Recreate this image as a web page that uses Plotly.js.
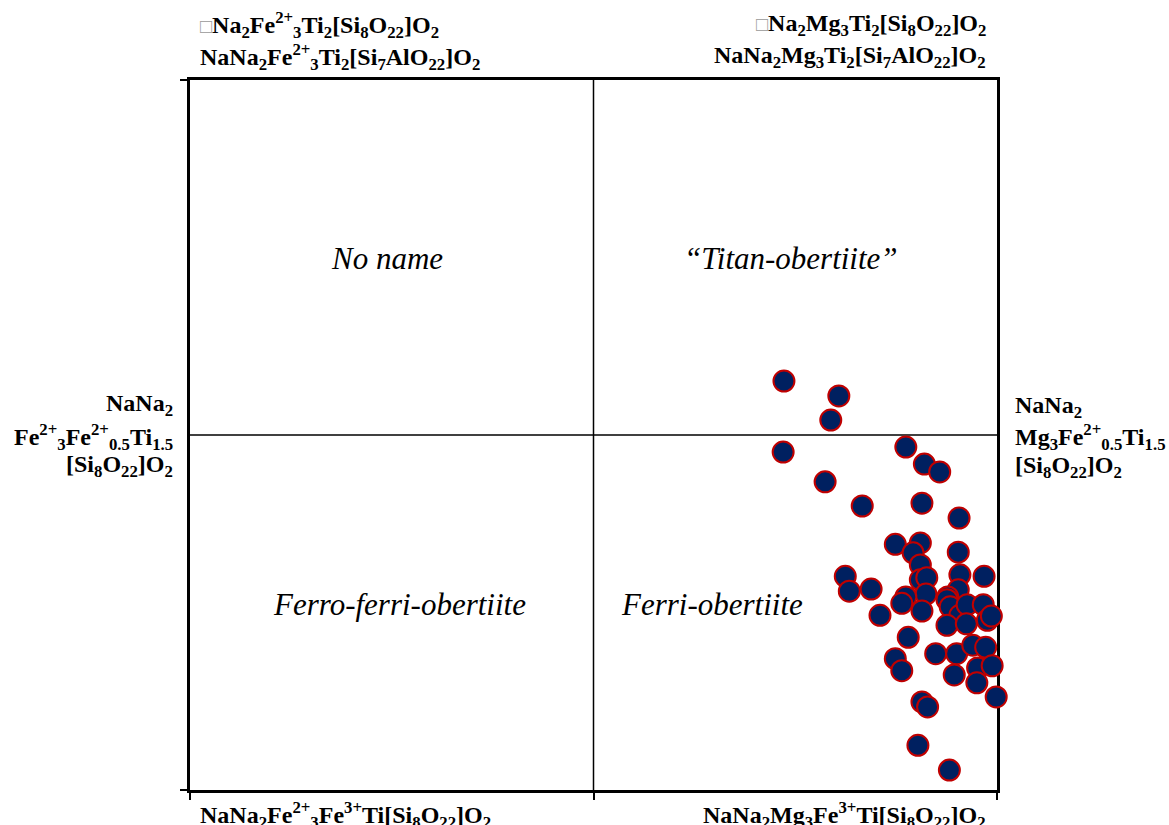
<!DOCTYPE html>
<html>
<head>
<meta charset="utf-8">
<script src="https://cdn.plot.ly/plotly-3.0.1.min.js"></script>
<style>html,body{margin:0;padding:0;background:#fff;}#chart{width:1169px;height:825px;}</style>
</head>
<body>
<div id="chart"></div>
<script>
// Sample compositions (fractional positions in the diagram, 0..1 on both axes)
const sampleX = [0.736,0.804,0.794,0.735,0.787,0.833,0.887,0.910,0.929,0.907,0.953,
  0.874,0.905,0.896,0.952,0.905,0.812,0.817,0.844,0.954,0.984,0.905,0.913,0.912,0.952,
  0.939,0.887,0.882,0.907,0.855,0.938,0.942,0.954,0.963,0.983,0.988,0.993,0.938,0.962,
  0.890,0.874,0.882,0.924,0.950,0.970,0.986,0.947,0.976,0.994,0.975,0.999,0.907,0.914,
  0.902,0.941];
const sampleY = [0.576,0.555,0.521,0.476,0.434,0.400,0.483,0.459,0.448,0.404,0.383,
  0.346,0.348,0.334,0.335,0.317,0.301,0.280,0.283,0.303,0.301,0.296,0.299,0.276,0.282,
  0.272,0.272,0.263,0.252,0.246,0.268,0.258,0.246,0.261,0.261,0.239,0.245,0.232,0.234,
  0.215,0.185,0.168,0.192,0.192,0.204,0.201,0.162,0.172,0.175,0.151,0.131,0.124,0.117,
  0.063,0.028];

const xTicks = [0, 0.5, 1];
const yTicks = [0, 1];

const BOX = '<span style="color:#999999;font-size:20px">\u25A1</span>';
const cornerLabels = {
  topLeft1: BOX + 'Na<sub>2</sub>Fe<sup>2+</sup><sub>3</sub>Ti<sub>2</sub>[Si<sub>8</sub>O<sub>22</sub>]O<sub>2</sub>',
  topLeft2: 'NaNa<sub>2</sub>Fe<sup>2+</sup><sub>3</sub>Ti<sub>2</sub>[Si<sub>7</sub>AlO<sub>22</sub>]O<sub>2</sub>',
  topRight1: BOX + 'Na<sub>2</sub>Mg<sub>3</sub>Ti<sub>2</sub>[Si<sub>8</sub>O<sub>22</sub>]O<sub>2</sub>',
  topRight2: 'NaNa<sub>2</sub>Mg<sub>3</sub>Ti<sub>2</sub>[Si<sub>7</sub>AlO<sub>22</sub>]O<sub>2</sub>',
  left1: 'NaNa<sub>2</sub>',
  left2: 'Fe<sup>2+</sup><sub>3</sub>Fe<sup>2+</sup><sub>0.5</sub>Ti<sub>1.5</sub>',
  left3: '[Si<sub>8</sub>O<sub>22</sub>]O<sub>2</sub>',
  right1: 'NaNa<sub>2</sub>',
  right2: 'Mg<sub>3</sub>Fe<sup>2+</sup><sub>0.5</sub>Ti<sub>1.5</sub>',
  right3: '[Si<sub>8</sub>O<sub>22</sub>]O<sub>2</sub>',
  bottomLeft: 'NaNa<sub>2</sub>Fe<sup>2+</sup><sub>3</sub>Fe<sup>3+</sup>Ti[Si<sub>8</sub>O<sub>22</sub>]O<sub>2</sub>',
  bottomRight: 'NaNa<sub>2</sub>Mg<sub>3</sub>Fe<sup>3+</sup>Ti[Si<sub>8</sub>O<sub>22</sub>]O<sub>2</sub>'
};
const fieldNames = ['No name', '\u201CTitan-obertiite\u201D', 'Ferro-ferri-obertiite', 'Ferri-obertiite'];

const boldFont = {family: 'Liberation Serif, Times New Roman, serif', size: 24, color: '#000'};
const italFont = {family: 'Liberation Serif, Times New Roman, serif', size: 31, color: '#000', style: 'italic'};

function ann(text, x, y, xanchor, font) {
  return {text: text, x: x, y: y, xref: 'paper', yref: 'paper', xanchor: xanchor, yanchor: 'middle',
          showarrow: false, font: font, align: xanchor === 'center' ? 'center' : xanchor};
}

const annotations = [
  ann('<b>' + cornerLabels.topLeft1 + '</b>', 0.0099, 1.0775, 'left', boldFont),
  ann('<b>' + cornerLabels.topLeft2 + '</b>', 0.0099, 1.0324, 'left', boldFont),
  ann('<b>' + cornerLabels.topRight1 + '</b>', 0.9888, 1.0775, 'right', boldFont),
  ann('<b>' + cornerLabels.topRight2 + '</b>', 0.9888, 1.0324, 'right', boldFont),
  ann('<b>' + cornerLabels.left1 + '</b>', -0.0186, 0.5423, 'right', boldFont),
  ann('<b>' + cornerLabels.left2 + '</b>', -0.0186, 0.4972, 'right', boldFont),
  ann('<b>' + cornerLabels.left3 + '</b>', -0.0186, 0.4563, 'right', boldFont),
  ann('<b>' + cornerLabels.right1 + '</b>', 1.0198, 0.5394, 'left', boldFont),
  ann('<b>' + cornerLabels.right2 + '</b>', 1.0198, 0.4972, 'left', boldFont),
  ann('<b>' + cornerLabels.right3 + '</b>', 1.0198, 0.4549, 'left', boldFont),
  ann('<b>' + cornerLabels.bottomLeft + '</b>', 0.0099, -0.0352, 'left', boldFont),
  ann('<b>' + cornerLabels.bottomRight + '</b>', 0.9888, -0.0352, 'right', boldFont),
  ann('<i>' + fieldNames[0] + '</i>', 0.244, 0.749, 'center', italFont),
  ann('<i>' + fieldNames[1] + '</i>', 0.745, 0.749, 'center', italFont),
  ann('<i>' + fieldNames[2] + '</i>', 0.260, 0.261, 'center', italFont),
  ann('<i>' + fieldNames[3] + '</i>', 0.647, 0.261, 'center', italFont)
];

const trace = {
  x: sampleX, y: sampleY, type: 'scatter', mode: 'markers', cliponaxis: false,
  marker: {size: 21, color: '#002060', line: {color: '#C00000', width: 2}},
  hoverinfo: 'skip'
};

const axisCommon = {
  range: [0, 1], showgrid: false, zeroline: false, showline: true, linecolor: '#000', linewidth: 3,
  mirror: true, ticks: 'outside', ticklen: 7, tickwidth: 2, tickcolor: '#000', showticklabels: false,
  tickmode: 'array', layer: 'below traces', fixedrange: true
};

const layout = {
  width: 1169, height: 825,
  margin: {l: 190, r: 172, t: 80, b: 35},
  paper_bgcolor: '#fff', plot_bgcolor: '#fff',
  showlegend: false,
  xaxis: Object.assign({}, axisCommon, {tickvals: xTicks}),
  yaxis: Object.assign({}, axisCommon, {tickvals: yTicks}),
  shapes: [
    {type: 'line', xref: 'x', yref: 'y', x0: 0.5, x1: 0.5, y0: 0, y1: 1, line: {color: '#000', width: 1.5}, layer: 'below'},
    {type: 'line', xref: 'x', yref: 'y', x0: 0, x1: 1, y0: 0.5, y1: 0.5, line: {color: '#000', width: 1.5}, layer: 'below'}
  ],
  annotations: annotations
};

Plotly.newPlot('chart', [trace], layout, {displayModeBar: false, staticPlot: true});
</script>
</body>
</html>
